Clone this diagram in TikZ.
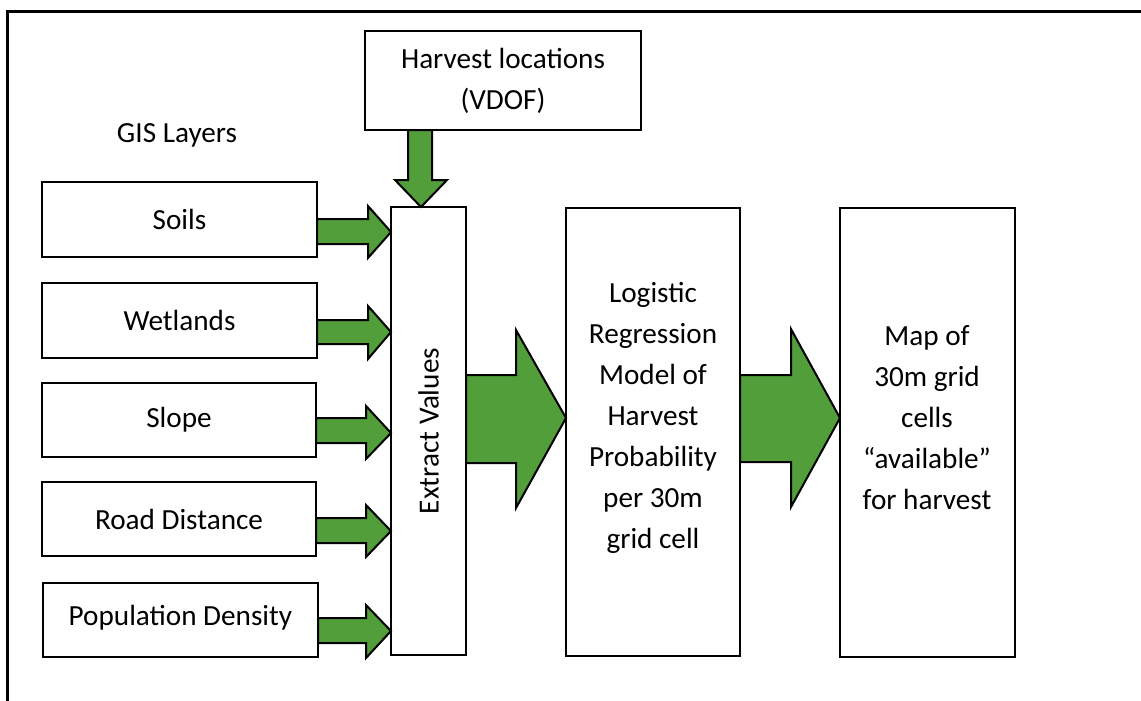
\documentclass[tikz,border=0pt]{standalone}
\usepackage{fontspec}
\setmainfont{Carlito}
\definecolor{agreen}{RGB}{82,158,58}
\tikzset{
  x=0.75pt, y=-0.75pt,
  box/.style={draw=black, line width=1.5pt, fill=white, rectangle, inner sep=0pt, outer sep=0pt},
  lbl/.style={align=center, inner sep=0pt, font=\fontsize{21.9}{30.75}\selectfont},
  garrow/.style={draw=black, line width=1.5pt, fill=agreen, line join=miter},
}
\newcommand\boxnode[6]{%
  \node[box, minimum width={(#4-#2)*0.75pt}, minimum height={(#5-#3)*0.75pt}] (#1) at ({(#2+#4)/2},{(#3+#5)/2}) {#6};}
\begin{document}
\begin{tikzpicture}
\useasboundingbox (0,0) rectangle (1141,700);
\clip (0,0) rectangle (1141,700);
\draw[line width=2.25pt] (7,11) rectangle (1150,712);

\node[lbl] (gis) at (177,135) {GIS Layers};

\boxnode{harvest}{365}{31}{641}{130}{}
\node[lbl] (harvesttxt) at (503,81) {Harvest locations\\(VDOF)};

\boxnode{soils}{42}{182}{317}{257}{}
\node[lbl] (soilstxt) at (soils.center) {Soils};
\boxnode{wetlands}{42}{283}{317}{358}{}
\node[lbl] (wetlandstxt) at (wetlands.center) {Wetlands};
\boxnode{slope}{42}{383}{316}{457}{}
\node[lbl] (slopetxt) at (slope.center) {Slope};
\boxnode{road}{42}{482}{316}{556}{}
\node[lbl] (roadtxt) at (road.center) {Road Distance};
\boxnode{pop}{43}{583}{318}{657}{}
\node[lbl] (poptxt) at ([yshift=1.5pt]pop.center) {Population Density};

\boxnode{extract}{391}{207}{466}{655}{}
\node[lbl, rotate=90] (extracttxt) at (extract.center) {Extract Values};

\boxnode{logistic}{566}{208}{740}{656}{}
\node[lbl] (logistictxt) at (653,418) {Logistic\\Regression\\Model of\\Harvest\\Probability\\per 30m\\grid cell};

\boxnode{map}{840}{208}{1015}{657}{}
\node[lbl] (maptxt) at (927,418) {Map of\\30m grid\\cells\\“available”\\for harvest};

% down arrow from harvest to extract
\draw[garrow] (harvest.south -| 408,0) -- (408,180) -- (395,180) -- (extract.north -| 421,0) -- (447,180) -- (432,180) -- (harvest.south -| 432,0) -- cycle;

% small arrows from GIS layers to extract
\draw[garrow] (soils.east |- 0,219) -- (368,219) -- (368,206) -- (extract.west |- 0,232) -- (368,258) -- (368,244) -- (soils.east |- 0,244) -- cycle;
\draw[garrow] (wetlands.east |- 0,320) -- (368,320) -- (368,306) -- (extract.west |- 0,332) -- (368,359) -- (368,344) -- (wetlands.east |- 0,344) -- cycle;
\draw[garrow] (slope.east |- 0,418) -- (366,418) -- (366,406) -- (extract.west |- 0,433) -- (366,459) -- (366,443) -- (slope.east |- 0,443) -- cycle;
\draw[garrow] (road.east |- 0,518) -- (366,518) -- (366,505) -- (extract.west |- 0,531) -- (366,557) -- (366,543) -- (road.east |- 0,543) -- cycle;
\draw[garrow] (pop.east |- 0,618) -- (366,618) -- (366,605) -- (extract.west |- 0,631) -- (366,658) -- (366,643) -- (pop.east |- 0,643) -- cycle;

% big arrows
\draw[garrow] (extract.east |- 0,375) -- (516,375) -- (516,330) -- (logistic.west |- 0,418) -- (516,508) -- (516,463) -- (extract.east |- 0,463) -- cycle;
\draw[garrow] (logistic.east |- 0,375) -- (791,375) -- (791,329) -- (map.west |- 0,418) -- (791,507) -- (791,462) -- (logistic.east |- 0,462) -- cycle;
\end{tikzpicture}
\end{document}
